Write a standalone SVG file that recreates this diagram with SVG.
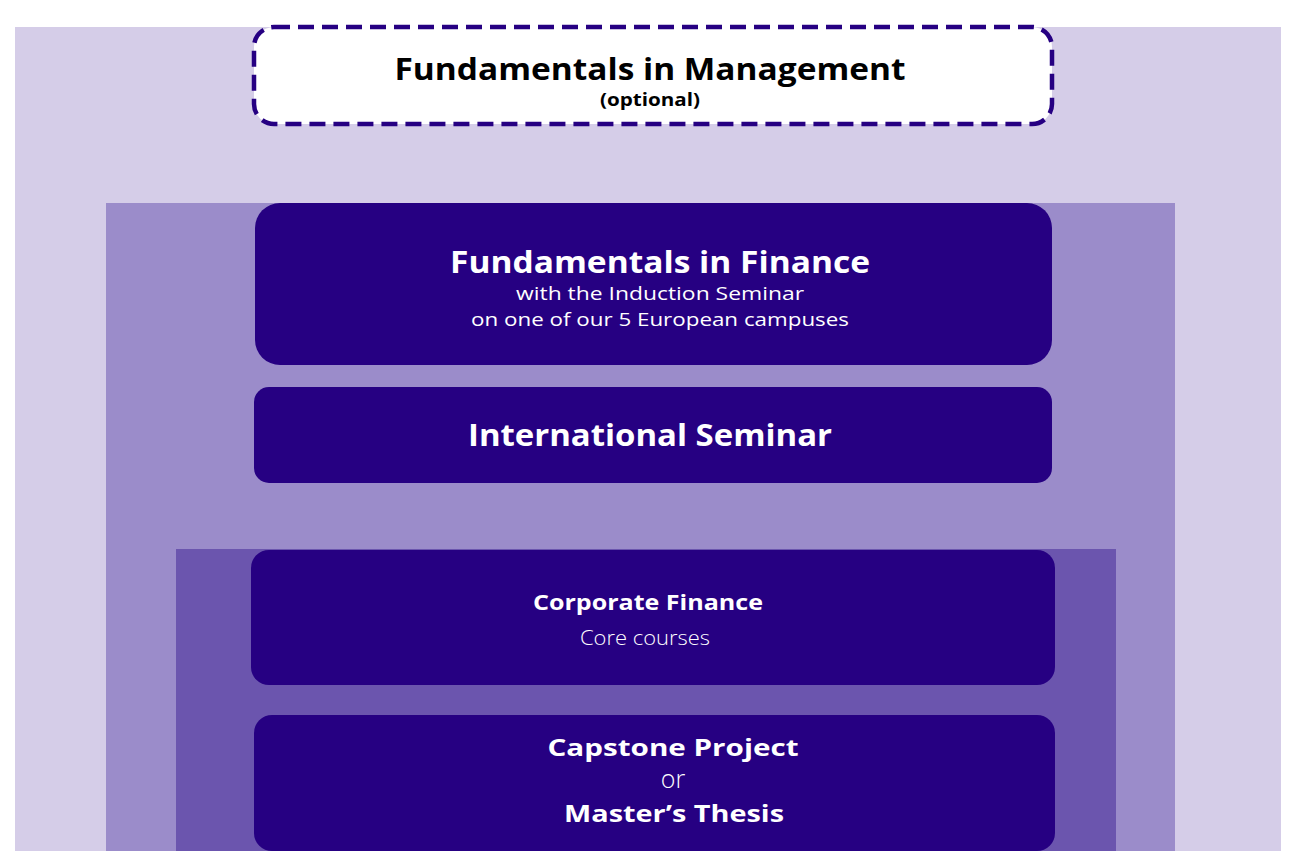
<svg xmlns="http://www.w3.org/2000/svg" width="1298" height="862" viewBox="0 0 1298 862">
<style>
.b{font-family:"Open Sans","DejaVu Sans",sans-serif;font-weight:700;text-anchor:middle}
.r{font-family:"Open Sans","DejaVu Sans",sans-serif;font-weight:400;text-anchor:middle}
.l{font-family:"Open Sans","DejaVu Sans",sans-serif;font-weight:300;text-anchor:middle}
.w{fill:#ffffff}
.k{fill:#000000}
.node{fill:#260082}
</style>
<rect width="1298" height="862" fill="#ffffff"/>
<g id="backgrounds">
<rect x="15" y="27" width="1266" height="824" fill="#d5cde8"/>
<rect x="106" y="203" width="1069" height="648" fill="#9b8cca"/>
<rect x="176" y="549" width="940" height="302" fill="#6b55ae"/>
</g>
<g id="connectors"></g>
<g id="node-management">
<rect x="254" y="27" width="798" height="97" rx="20" fill="#ffffff" stroke="#260082" stroke-width="4.5" stroke-dasharray="16 8"/>
<text class="b k" x="650" y="80" font-size="31" textLength="511" lengthAdjust="spacingAndGlyphs">Fundamentals in Management</text>
<text class="b k" x="650" y="106" font-size="17" textLength="100" lengthAdjust="spacingAndGlyphs">(optional)</text>
</g>
<g id="node-finance">
<rect class="node" x="255" y="203" width="797" height="162" rx="25"/>
<text class="b w" x="660" y="273" font-size="30" textLength="420" lengthAdjust="spacingAndGlyphs">Fundamentals in Finance</text>
<text class="r w" x="660" y="300" font-size="19" textLength="288" lengthAdjust="spacingAndGlyphs">with the Induction Seminar</text>
<text class="r w" x="660" y="326" font-size="19" textLength="378" lengthAdjust="spacingAndGlyphs">on one of our 5 European campuses</text>
</g>
<g id="node-seminar">
<rect class="node" x="254" y="387" width="798" height="96" rx="15"/>
<text class="b w" x="650" y="446" font-size="30" textLength="364" lengthAdjust="spacingAndGlyphs">International Seminar</text>
</g>
<g id="node-corporate">
<rect class="node" x="251" y="550" width="804" height="135" rx="18"/>
<text class="b w" x="648" y="610" font-size="22" textLength="230" lengthAdjust="spacingAndGlyphs">Corporate Finance</text>
<text class="l w" x="645" y="645" font-size="21" textLength="130" lengthAdjust="spacingAndGlyphs">Core courses</text>
</g>
<g id="node-capstone">
<rect class="node" x="254" y="715" width="801" height="136" rx="18"/>
<text class="b w" x="673" y="756" font-size="24" textLength="251" lengthAdjust="spacingAndGlyphs">Capstone Project</text>
<text class="l w" x="673" y="788" font-size="25">or</text>
<text class="b w" x="674" y="822" font-size="24" textLength="220" lengthAdjust="spacingAndGlyphs">Master’s Thesis</text>
</g>
</svg>
